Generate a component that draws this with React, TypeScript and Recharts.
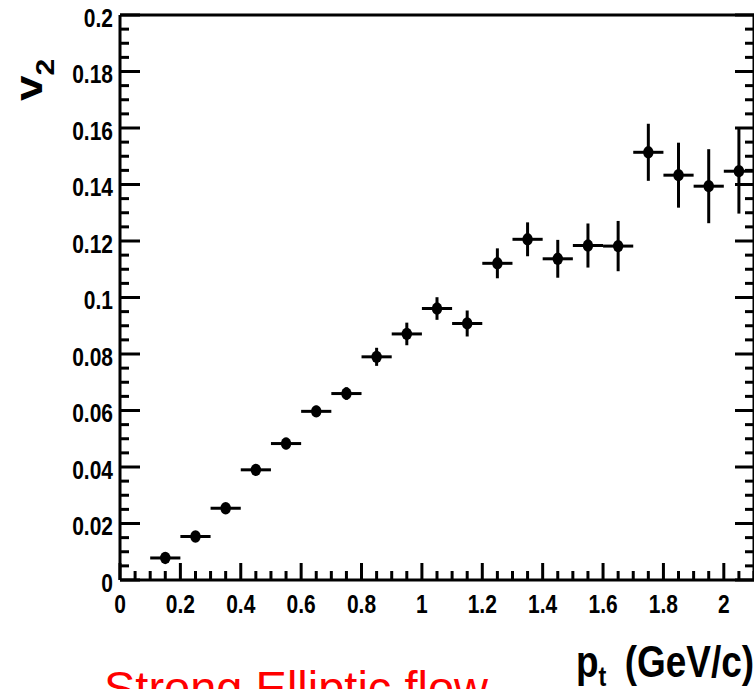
import React from 'react';
import { ScatterChart, Scatter, XAxis, YAxis, ErrorBar } from 'recharts';

// ---- data ----
const ptCenters = [0.15, 0.25, 0.35, 0.45, 0.55, 0.65, 0.75, 0.85, 0.95, 1.05, 1.15, 1.25, 1.35, 1.45, 1.55, 1.65, 1.75, 1.85, 1.95, 2.05];
const ptHalfWidths = [0.05, 0.05, 0.05, 0.05, 0.05, 0.05, 0.05, 0.05, 0.05, 0.05, 0.05, 0.05, 0.05, 0.05, 0.05, 0.05, 0.05, 0.05, 0.05, 0.05];
const v2Values = [0.0078, 0.0154, 0.0254, 0.039, 0.0483, 0.0597, 0.066, 0.079, 0.0871, 0.0961, 0.0908, 0.1121, 0.1206, 0.1137, 0.1184, 0.1182, 0.1514, 0.1433, 0.1394, 0.1447];
const v2Errors = [0.0015, 0.0015, 0.0017, 0.0019, 0.002, 0.002, 0.0022, 0.0032, 0.004, 0.004, 0.0046, 0.0053, 0.006, 0.0067, 0.0078, 0.0089, 0.0101, 0.0115, 0.0131, 0.015];

const xMajorTicks = [0, 0.2, 0.4, 0.6, 0.8, 1, 1.2, 1.4, 1.6, 1.8, 2];
const xTickLabels = ['0', '0.2', '0.4', '0.6', '0.8', '1', '1.2', '1.4', '1.6', '1.8', '2'];
const yMajorTicks = [0, 0.02, 0.04, 0.06, 0.08, 0.1, 0.12, 0.14, 0.16, 0.18, 0.2];
const yTickLabels = ['0', '0.02', '0.04', '0.06', '0.08', '0.1', '0.12', '0.14', '0.16', '0.18', '0.2'];

const xDomain: [number, number] = [0, 2.1];
const yDomain: [number, number] = [0, 0.2];
const xMinorStep = 0.05;
const yMinorStep = 0.005;

const xAllTicks = Array.from({ length: Math.round(xDomain[1] / xMinorStep) + 1 }, (_, i) => Math.round(i * xMinorStep * 1000) / 1000);
const yAllTicks = Array.from({ length: Math.round(yDomain[1] / yMinorStep) + 1 }, (_, i) => Math.round(i * yMinorStep * 10000) / 10000);

const points = ptCenters.map((x, i) => ({ x, y: v2Values[i], ex: ptHalfWidths[i], ey: v2Errors[i] }));

const SANS = "'Liberation Sans', Arial, Helvetica, sans-serif";
const SQUEEZE = 0.84;

const majorIdx = (arr: number[], v: number) => arr.findIndex((m) => Math.abs(m - v) < 1e-7);

const TICK_W = 3;

const Squeezed = ({ x, y, anchor, size, children }: any) => (
  <g transform={`translate(${x},${y}) scale(${SQUEEZE},1)`}>
    <text x={0} y={0} textAnchor={anchor} fontFamily={SANS} fontWeight="bold" fontSize={size} fill="#000">
      {children}
    </text>
  </g>
);

const BottomTick = (props: any) => {
  const { x, y, payload } = props;
  const idx = majorIdx(xMajorTicks, payload.value);
  const major = idx >= 0;
  return (
    <g>
      <line x1={x} x2={x} y1={y} y2={y - (major ? 17 : 9)} stroke="#000" strokeWidth={TICK_W} />
      {major && (
        <Squeezed x={x} y={y + 33} anchor="middle" size={25}>
          {xTickLabels[idx]}
        </Squeezed>
      )}
    </g>
  );
};

const TopTick = (props: any) => {
  const { x, y, payload } = props;
  const major = majorIdx(xMajorTicks, payload.value) >= 0;
  return <line x1={x} x2={x} y1={y} y2={y + (major ? 17 : 9)} stroke="#000" strokeWidth={TICK_W} />;
};

const LeftTick = (props: any) => {
  const { x, y, payload } = props;
  const idx = majorIdx(yMajorTicks, payload.value);
  const major = idx >= 0;
  return (
    <g>
      <line x1={x} x2={x + (major ? 20 : 9)} y1={y} y2={y} stroke="#000" strokeWidth={TICK_W} />
      {major && (
        <Squeezed x={x - 7} y={y + 11.5} anchor="end" size={25}>
          {yTickLabels[idx]}
        </Squeezed>
      )}
    </g>
  );
};

const RightTick = (props: any) => {
  const { x, y, payload } = props;
  const major = majorIdx(yMajorTicks, payload.value) >= 0;
  return <line x1={x} x2={x - (major ? 19 : 9)} y1={y} y2={y} stroke="#000" strokeWidth={TICK_W} />;
};

const Marker = (props: any) => {
  const { cx, cy } = props;
  if (cx == null || cy == null) return null;
  return <ellipse cx={cx} cy={cy} rx={5.2} ry={6.2} fill="#000" />;
};

const axisLine = { stroke: '#000', strokeWidth: 3 };

export default function App() {
  return (
    <div style={{ position: 'absolute', left: 0, top: 0, width: 754, height: 689, overflow: 'hidden', background: '#fff' }}>
      <ScatterChart width={764} height={689} margin={{ top: 5, right: 0, bottom: 79, left: 60 }}>
        <XAxis
          xAxisId="b"
          orientation="bottom"
          type="number"
          dataKey="x"
          domain={xDomain}
          ticks={xAllTicks}
          interval={0}
          allowDataOverflow
          height={30}
          tickSize={0}
          tickMargin={0}
          tickLine={false}
          axisLine={axisLine}
          tick={<BottomTick />}
        />
        <XAxis
          xAxisId="t"
          orientation="top"
          type="number"
          domain={xDomain}
          ticks={xAllTicks}
          interval={0}
          allowDataOverflow
          height={10}
          tickSize={0}
          tickMargin={0}
          tickLine={false}
          axisLine={axisLine}
          tick={<TopTick />}
        />
        <YAxis
          yAxisId="l"
          orientation="left"
          type="number"
          dataKey="y"
          domain={yDomain}
          ticks={yAllTicks}
          interval={0}
          allowDataOverflow
          width={60}
          tickSize={0}
          tickMargin={0}
          tickLine={false}
          axisLine={axisLine}
          tick={<LeftTick />}
        />
        <YAxis
          yAxisId="r"
          orientation="right"
          type="number"
          domain={yDomain}
          ticks={yAllTicks}
          interval={0}
          allowDataOverflow
          width={10}
          tickSize={0}
          tickMargin={0}
          tickLine={false}
          axisLine={axisLine}
          tick={<RightTick />}
        />
        <Scatter xAxisId="b" yAxisId="l" data={points} dataKey="y" fill="#000" shape={<Marker />} isAnimationActive={false}>
          <ErrorBar dataKey="ey" direction="y" width={0} stroke="#000" strokeWidth={3} isAnimationActive={false} />
          <ErrorBar dataKey="ex" direction="x" width={0} stroke="#000" strokeWidth={3} isAnimationActive={false} />
        </Scatter>
      </ScatterChart>
      <svg width={754} height={689} style={{ position: 'absolute', left: 0, top: 0, pointerEvents: 'none' }}>
        <g transform="translate(42 101) rotate(-90)">
          <text x={0} y={0} fontFamily={SANS} fontWeight="bold" fontSize={46} fill="#000" transform={`scale(1 ${SQUEEZE})`}>
            v<tspan dy={14} fontSize={30}>2</tspan>
          </text>
        </g>
        <g transform={`translate(576 677) scale(${SQUEEZE} 1)`}>
          <text x={0} y={0} fontFamily={SANS} fontWeight="bold" fontSize={44} fill="#000">
            p<tspan dy={9} fontSize={28}>t</tspan>
            <tspan x={58} dy={-9}>(GeV/c)</tspan>
          </text>
        </g>
        <text x={104} y={704} fontFamily={SANS} fontSize={47} fill="#ff0000">
          Strong Elliptic flow
        </text>
      </svg>
    </div>
  );
}
